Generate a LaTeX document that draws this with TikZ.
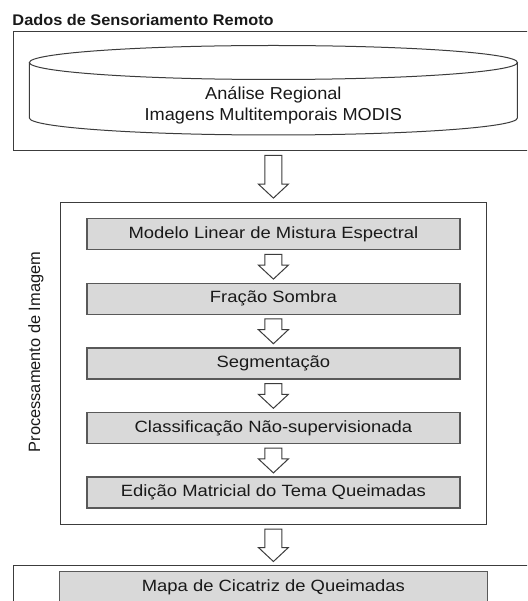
\documentclass[tikz,border=0pt]{standalone}
\usepackage{fontspec}
\setmainfont{Liberation Sans}
\newfontfamily\fonteetapa[FakeStretch=1.13]{Liberation Sans}
\newfontfamily\fontecil[FakeStretch=1.05]{Liberation Sans}
\newfontfamily\fontetit[FakeStretch=1.06]{Liberation Sans}
\usepackage{tikz}
\usetikzlibrary{calc}
\usetikzlibrary{positioning}
\definecolor{linha}{RGB}{60,60,60}
\definecolor{cinza}{RGB}{217,217,217}
\definecolor{texto}{RGB}{25,25,25}

\tikzset{
  moldura/.style={draw=linha, line width=1.1pt, fill=white, inner sep=0pt},
  etapa/.style={draw=linha!85, line width=1.3pt, fill=cinza, text=texto, inner sep=0pt,
    minimum width=373pt, minimum height=31pt, font=\fonteetapa\fontsize{16.3}{19}\selectfont},
  seta/.style={draw=linha, line width=1pt, fill=white, to path={
      ($(\tikztostart)+(-8.5pt,-4pt)$) -- ($(\tikztotarget)+(-8.5pt,17.5pt)$)
      -- ($(\tikztotarget)+(-15pt,17.5pt)$) -- ($(\tikztotarget)+(0pt,3.5pt)$)
      -- ($(\tikztotarget)+(15pt,17.5pt)$) -- ($(\tikztotarget)+(8.5pt,17.5pt)$)
      -- ($(\tikztostart)+(8.5pt,-4pt)$) -- cycle}}
}

\begin{document}
\begin{tikzpicture}[x=1pt,y=-1pt]
    \pgfmathsetmacro{\cx}{273.4}
    \pgfmathsetmacro{\rx}{244}
    \useasboundingbox (0,0) rectangle (527,601);
    \clip (0,0) rectangle (527,601);

    \node[anchor=base west, text=texto, inner sep=0pt, font=\fontetit\bfseries\fontsize{15.4}{18}\selectfont] (titulo) at (12.3,25.8) {Dados de Sensoriamento Remoto};
    \node[moldura, anchor=north west, minimum width=540pt, minimum height=119pt] (dados) at (13,31.3) {};

    \draw[linha, line width=1pt] (\cx,62.5) ellipse [x radius=\rx pt, y radius=17pt];
    \draw[linha, line width=1pt] (\cx-\rx,62.5) -- (\cx-\rx,118)
      arc[start angle=180, end angle=360, x radius=\rx pt, y radius=17pt] -- (\cx+\rx,62.5);
    \node[anchor=base, text=texto, font=\fontecil\fontsize{17.3}{21}\selectfont] (analise) at (\cx,99.3) {Análise Regional};
    \node[anchor=base, text=texto, font=\fontecil\fontsize{17.3}{21}\selectfont] (modis) at (\cx,120.7) {Imagens Multitemporais MODIS};

    \node[moldura, anchor=north, minimum width=426pt, minimum height=322.4pt] (proc) at (\cx,201.6) {};
    \node[etapa, anchor=north] (mlme) at (\cx,218) {Modelo Linear de Mistura Espectral};
    \node[etapa, below=32.3pt of mlme] (sombra) {Fração Sombra};
    \node[etapa, below=32.3pt of sombra] (segm) {Segmentação};
    \node[etapa, below=32.3pt of segm] (classif) {Classificação Não-supervisionada};
    \node[etapa, below=32.3pt of classif] (edicao) {Edição Matricial do Tema Queimadas};
    \node[rotate=90, text=texto, inner sep=0pt, font=\fontsize{16.4}{19}\selectfont] (rotulo) at (36,352) {Processamento de Imagem};

    \node[moldura, anchor=north west, minimum width=540pt, minimum height=60pt] (saida) at (13,565) {};
    \node[etapa, anchor=north, minimum width=427.6pt, minimum height=32pt] (mapa) at (\cx,571) {Mapa de Cicatriz de Queimadas};

    \draw[seta] (proc.north |- dados.south) to (proc.north);
    \foreach \a/\b in {mlme/sombra, sombra/segm, segm/classif, classif/edicao}
      \draw[seta] (\a.south) to (\b.north);
    \draw[seta] (proc.south) to (mapa.north |- saida.north);
\end{tikzpicture}
\end{document}
